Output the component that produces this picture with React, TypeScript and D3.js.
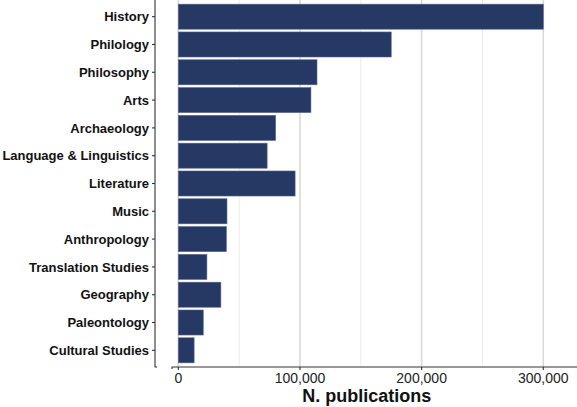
import React from 'react';
import * as d3 from 'd3';

const categories = [
  'History', 'Philology', 'Philosophy', 'Arts', 'Archaeology',
  'Language & Linguistics', 'Literature', 'Music', 'Anthropology',
  'Translation Studies', 'Geography', 'Paleontology', 'Cultural Studies',
];
const publications = [
  300000, 175000, 114000, 109000, 80000,
  73000, 96000, 40000, 39500,
  23500, 35000, 20500, 13000,
];
const majorTicks = [0, 100000, 200000, 300000];
const minorTicks = [50000, 150000, 250000];
const xTitle = 'N. publications';

const W = 577;
const H = 407;
const font = '"Liberation Sans", Arial, Helvetica, sans-serif';

export default function App() {
  const x = d3.scaleLinear().domain([0, 300000]).range([178.3, 543.3]);
  const y = d3.scaleBand<string>()
    .domain(categories)
    .range([0, 367])
    .paddingInner(0.1)
    .paddingOuter(0.15);
  const fmt = d3.format(',');
  const axisY = 155;
  const baseY = 367;

  return (
    <div style={{ position: 'absolute', left: 0, top: 0 }}>
      <svg width={W} height={H} style={{ display: 'block', background: '#fff' }}>
        {/* grid */}
        {minorTicks.map(t => (
          <line key={'mi' + t} x1={x(t)} x2={x(t)} y1={0} y2={baseY}
            stroke="#ebebeb" strokeWidth={1} />
        ))}
        {majorTicks.map(t => (
          <line key={'ma' + t} x1={x(t)} x2={x(t)} y1={0} y2={baseY}
            stroke="#d9d9d9" strokeWidth={1.6} />
        ))}

        {/* bars */}
        {categories.map((c, i) => (
          <rect key={c}
            x={x(0)} y={y(c)}
            width={x(publications[i]) - x(0)} height={y.bandwidth()}
            fill="#263964" stroke="#55658a" strokeWidth={0.6} />
        ))}

        {/* y axis */}
        <path d={`M${axisY},0 V${baseY} h2`} fill="none" stroke="#333" strokeWidth={1.1} />
        {categories.map(c => {
          const cy = y(c) + y.bandwidth() / 2;
          return (
            <g key={'yl' + c}>
              <line x1={axisY - 3} x2={axisY} y1={cy} y2={cy} stroke="#333" strokeWidth={1.1} />
              <text x={axisY - 6} y={cy} dy="0.36em" textAnchor="end"
                fontFamily={font} fontSize={13} fontWeight="bold" fill="#111">{c}</text>
            </g>
          );
        })}

        {/* x axis */}
        <path d={`M172,${baseY + 2} V${baseY} H${W}`} fill="none" stroke="#333" strokeWidth={1.1} />
        {majorTicks.map(t => (
          <g key={'xl' + t}>
            <line x1={x(t)} x2={x(t)} y1={baseY} y2={baseY + 3} stroke="#333" strokeWidth={1.1} />
            <text x={x(t)} y={383} textAnchor="middle"
              fontFamily={font} fontSize={14} fill="#222">{fmt(t)}</text>
          </g>
        ))}
        <text x={366.7} y={401.5} textAnchor="middle"
          fontFamily={font} fontSize={18} fontWeight="bold" fill="#111">{xTitle}</text>
      </svg>
    </div>
  );
}
